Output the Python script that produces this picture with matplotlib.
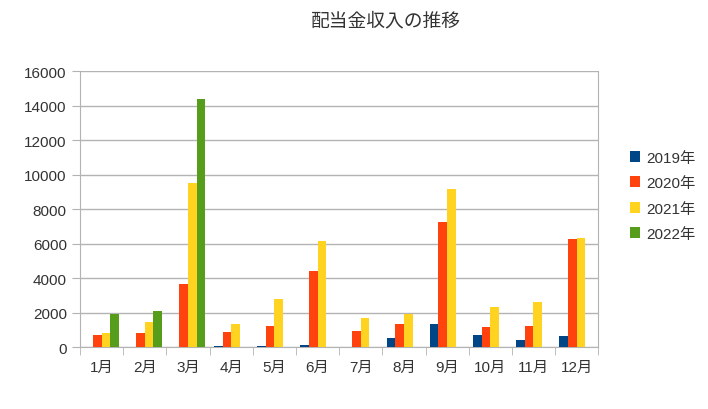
import numpy as np
import matplotlib.pyplot as plt

plt.rcParams['font.family'] = ['Liberation Sans', 'Noto Sans CJK JP', 'DejaVu Sans']

months = ["1月", "2月", "3月", "4月", "5月", "6月", "7月", "8月", "9月", "10月", "11月", "12月"]
years = ["2019年", "2020年", "2021年", "2022年"]

v2019 = [0, 0, 0, 60, 60, 135, 20, 540, 1350, 730, 420, 655]
v2020 = [710, 810, 3640, 870, 1230, 4430, 925, 1310, 7260, 1175, 1195, 6260]
v2021 = [810, 1465, 9500, 1310, 2810, 6165, 1695, 1930, 9190, 2350, 2600, 6320]
v2022 = [1890, 2120, 14375, 0, 0, 0, 0, 0, 0, 0, 0, 0]

colors = ["#004586", "#ff420e", "#ffd320", "#579d1c"]
series = [v2019, v2020, v2021, v2022]

fig = plt.figure(figsize=(7.08, 4.10), dpi=100)
ax = fig.add_axes([0.113, 0.151, 0.732, 0.673])

x = np.arange(len(months))
w = 0.2
for i, vals in enumerate(series):
    ax.bar(x + (i - 1.5) * w, vals, w, color=colors[i], label=years[i], zorder=3)

ax.set_xlim(-0.5, len(months) - 0.5)
ax.set_ylim(0, 16000)
ax.set_yticks(np.arange(0, 16001, 2000))
ax.grid(axis='y', color='#b3b3b3', linewidth=1, zorder=0)

ax.set_xticks(x)
ax.set_xticklabels(months, fontsize=11, color='#333333')
ax.set_xticks(np.arange(-0.5, len(months), 1), minor=True)
ax.tick_params(axis='x', which='major', length=0, pad=9)
ax.tick_params(axis='x', which='minor', length=6, color='#b3b3b3')
ax.tick_params(axis='y', length=6, color='#b3b3b3', labelsize=11, labelcolor='#333333')

for s in ['left', 'bottom', 'right']:
    ax.spines[s].set_color('#b3b3b3')
ax.spines['top'].set_visible(False)

fig.suptitle("配当金収入の推移", x=0.545, y=0.97, fontsize=13.5, color='#333333')

fig.legend(loc='center left', bbox_to_anchor=(0.87, 0.52), frameon=False,
           handlelength=0.7, handleheight=0.7, handletextpad=0.4,
           labelspacing=0.75, fontsize=11, labelcolor='#333333')

fig.savefig("out.png", dpi=100)
